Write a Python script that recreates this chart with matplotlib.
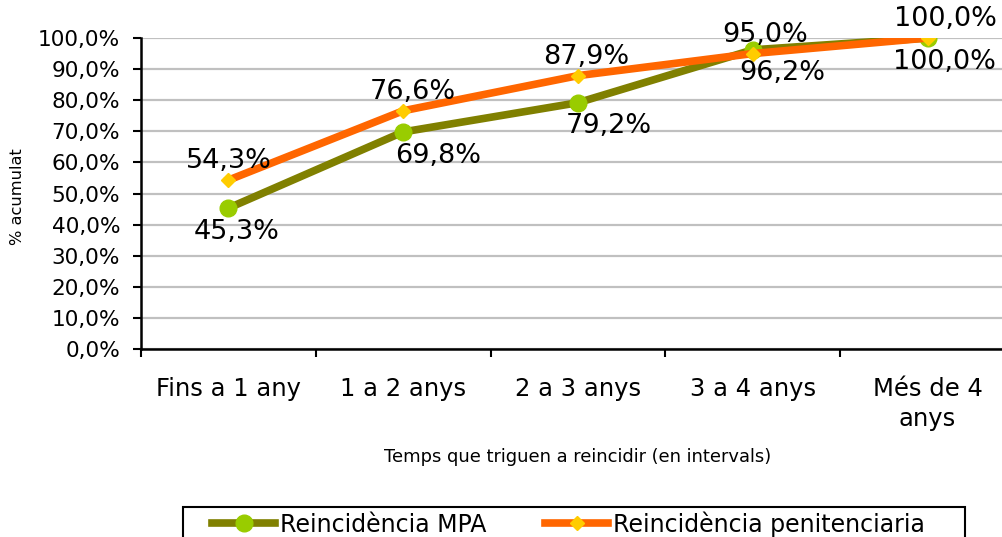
import matplotlib
matplotlib.use("Agg")
import matplotlib.pyplot as plt
from matplotlib.patches import Rectangle

# data
categories = ["Fins a 1 any", "1 a 2 anys", "2 a 3 anys", "3 a 4 anys", "Més de 4\nanys"]
mpa = [45.3, 69.8, 79.2, 96.2, 100.0]
penitenciaria = [54.3, 76.6, 87.9, 95.0, 100.0]
y_ticks = [0, 10, 20, 30, 40, 50, 60, 70, 80, 90, 100]


def pct(v):
    return f"{v:.1f}".replace(".", ",") + "%"


plt.rcParams["font.family"] = ["DejaVu Sans"]

fig = plt.figure(figsize=(10.03, 5.37), dpi=100)
# axes runs a little past the right edge, as in the (cropped) original
ax = fig.add_axes([141 / 1003, 188 / 537, 874 / 1003, 311 / 537])

x = [i + 0.5 for i in range(len(categories))]

ax.plot(x, mpa, color="#808000", lw=5.5, marker="o", ms=12,
        mfc="#99CC00", mec="#99CC00", label="Reincidència MPA", zorder=3)
ax.plot(x, penitenciaria, color="#FF6600", lw=5.5, marker="D", ms=7.5,
        mfc="#FFCC00", mec="#FFCC00", label="Reincidència penitenciaria", zorder=4)

# data labels: MPA below, penitenciaria above (offsets in points)
mpa_dx = [6, 25, 22, 21, 12]
pen_dx = [0, 7, 6, 9, 13]
for xi, v, dx in zip(x, mpa, mpa_dx):
    ax.annotate(pct(v), (xi, v), xytext=(dx, -17), textcoords="offset points",
                ha="center", va="center", fontsize=19.5, zorder=5)
for xi, v, dx in zip(x, penitenciaria, pen_dx):
    ax.annotate(pct(v), (xi, v), xytext=(dx, 13.5), textcoords="offset points",
                ha="center", va="center", fontsize=19.5, zorder=5)

ax.set_xlim(0, 5)
ax.set_ylim(0, 100)
ax.set_yticks(y_ticks)
ax.set_yticklabels([pct(t) for t in y_ticks], fontsize=15.6)
ax.yaxis.grid(True, color="#C0C0C0", lw=1.6)
ax.set_axisbelow(True)

ax.set_xticks(range(len(categories) + 1))
ax.set_xticklabels([])
ax.set_xticks(x, minor=True)
ax.set_xticklabels(categories, minor=True, fontsize=17.5, ha="center",
                   multialignment="center", linespacing=1.35)
ax.tick_params(axis="x", which="major", direction="out", length=6, width=1.5)
ax.tick_params(axis="x", which="minor", length=0, pad=20)
ax.tick_params(axis="y", direction="out", length=6, width=1.5, pad=9)

for side in ["top", "right"]:
    ax.spines[side].set_visible(False)
for side in ["left", "bottom"]:
    ax.spines[side].set_linewidth(1.8)

ax.set_xlabel("Temps que triguen a reincidir (en intervals)", fontsize=12.9, va="center")
ax.xaxis.set_label_coords(0.5, -0.347)
ax.set_ylabel("% acumulat", fontsize=11.7, va="center")
ax.yaxis.set_label_coords(-0.141, 0.49)

# legend box is cut off by the bottom edge in the original
fig.patches.append(Rectangle((183 / 1003, -0.05), (965 - 183) / 1003, 0.05 + 30 / 537,
                             transform=fig.transFigure, fill=False,
                             edgecolor="black", lw=1.5))
fig.legend(loc="center left", bbox_to_anchor=(212 / 1003, 1 - 524 / 537), ncol=2,
           fontsize=17, frameon=False, handlelength=2.67, columnspacing=2.5,
           handletextpad=0.2, borderpad=0, borderaxespad=0)

fig.savefig("out.png", dpi=100)
